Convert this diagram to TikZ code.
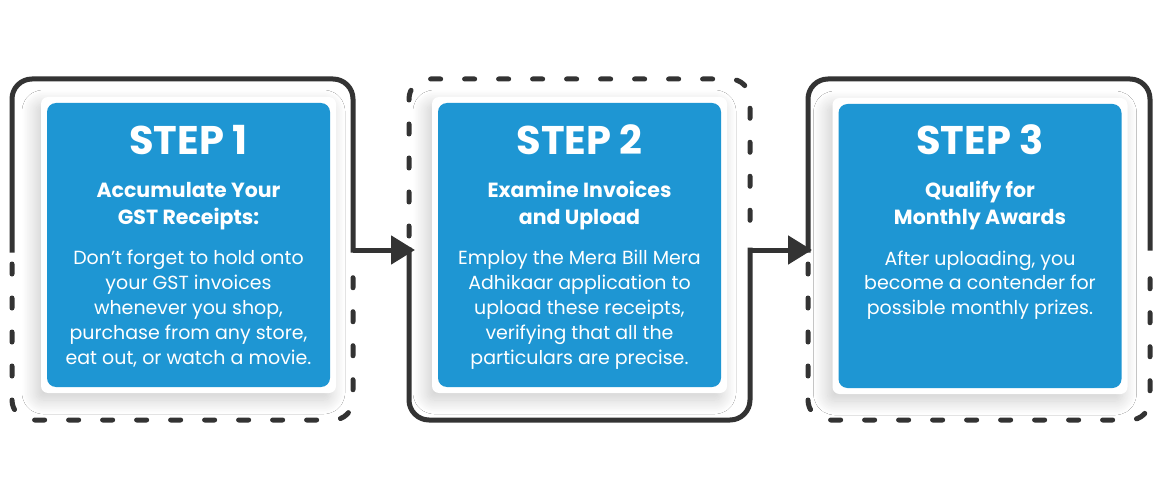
\documentclass[tikz,border=0pt]{standalone}
\usepackage{fontspec}
\setmainfont{Poppins}
\usetikzlibrary{arrows.meta,shadows.blur}
\definecolor{stepblue}{HTML}{1E96D3}
\definecolor{framegray}{HTML}{333333}
\begin{document}
\begin{tikzpicture}[x=1pt,y=-1pt,
 frame/.style={draw=framegray,line width=5pt,rounded corners=20pt},
 solidframe/.style={frame,line cap=rect},
 dashframe/.style={frame,line cap=round,dash pattern=on 10pt off 24pt},
 link/.style={draw=framegray,line width=5pt,-{Triangle[length=24pt,width=28pt]}},
 card/.style={fill=white,rounded corners=7pt,minimum width=295pt,minimum height=296pt,inner sep=0pt,
   blur shadow={shadow xshift=-5pt,shadow yshift=-7pt,shadow blur radius=14pt,shadow blur steps=20,shadow opacity=20}},
 panel/.style={fill=stepblue,rounded corners=9pt,minimum width=283pt,minimum height=284pt,inner sep=0pt},
 title/.style={text=white,font=\fontsize{40}{44}\selectfont\bfseries,anchor=base,inner sep=0pt},
 subtitle/.style={text=white,font=\fontsize{20.5}{27}\selectfont\bfseries,align=center,anchor=base,inner sep=0pt},
 body/.style={text=white,font=\fontsize{19}{24.8}\selectfont,align=center,anchor=base,inner sep=0pt},
]
\useasboundingbox[fill=white] (0,0) rectangle (1160,500);

% frames
\coordinate (o1) at (353,250);
\coordinate (i2) at (415,250);
\coordinate (o2) at (750,250);
\coordinate (i3) at (812,250);

\draw[solidframe] (12,250) -- (12,79) -- (353,79) -- (o1);
\draw[dashframe] (12,264) -- (12,420) -- (353,420) -- (353,264);

\draw[dashframe] (409,236) -- (409,79) -- (750,79) -- (750,236);
\draw[solidframe] (409,250) -- (409,420) -- (750,420) -- (o2);

\draw[solidframe] (808,250) -- (808,79) -- (1150,79) -- (1150,248);
\draw[dashframe] (808,264) -- (808,420) -- (1150,420) -- (1150,264);

\draw[link] (o1) -- (i2);
\draw[link] (o2) -- (i3);

% cards
\node[card] (c1) at (188.5,245) {};
\node[panel] (p1) at (c1) {};
\node[card] (c2) at (579.5,245) {};
\node[panel] (p2) at (c2) {};
\node[card] (c3) at (980,246) {};
\node[panel] (p3) at (c3) {};

\node[title] (t1) at (188.5,155) {STEP 1};
\node[subtitle] (s1) at (188.5,224) {Accumulate Your\\GST Receipts:};
\node[body] (d1) at (188.5,364) {Don’t forget to hold onto\\your GST invoices\\whenever you shop,\\purchase from any store,\\eat out, or watch a movie.};

\node[title] (t2) at (579.5,155) {STEP 2};
\node[subtitle] (s2) at (579.5,224) {Examine Invoices\\and Upload};
\node[body] (d2) at (579.5,364) {Employ the Mera Bill Mera\\Adhikaar application to\\upload these receipts,\\verifying that all the\\particulars are precise.};

\node[title] (t3) at (980,155) {STEP 3};
\node[subtitle] (s3) at (980,224) {Qualify for\\Monthly Awards};
\node[body] (d3) at (980,314.6) {After uploading, you\\become a contender for\\possible monthly prizes.};
\end{tikzpicture}
\end{document}
